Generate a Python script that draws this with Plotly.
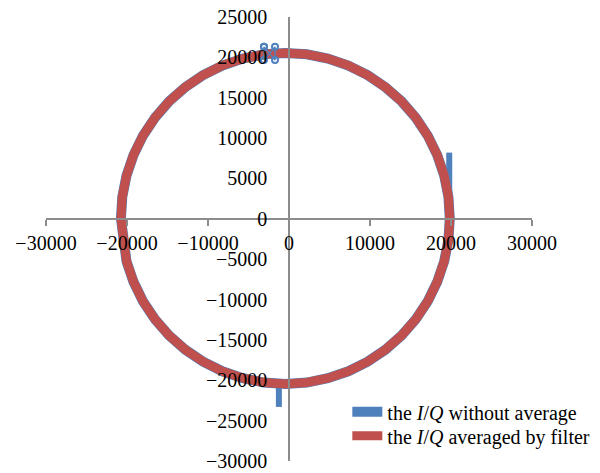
import plotly.graph_objects as go

# ---- data ----
red_I = [19850, 19680, 19160, 18300, 17130, 15650, 13900, 11900, 9700, 7320, 4800, 2200,
         -450, -3100, -5700, -8220, -10600, -12800, -14800, -16550, -18030, -19200, -20060, -20580, -20750,
         -20400, -20060, -19200, -18030, -16550, -14800, -12800, -10600, -8220, -5700, -3100,
         -450, 2200, 4800, 7320, 9700, 11900, 13900, 15650, 17130, 18300, 19160, 19680, 19850]
red_Q = [50, 2730, 5360, 7900, 10300, 12530, 14550, 16310, 17800, 18990, 19850, 20380,
         20550, 20380, 19850, 18990, 17800, 16310, 14550, 12530, 10300, 7900, 5360, 2730, 50,
         -2630, -5260, -7800, -10200, -12430, -14450, -16210, -17700, -18890, -19750, -20280,
         -20450, -20280, -19750, -18890, -17700, -16210, -14450, -12430, -10200, -7800, -5260, -2630, 50]

blue_I = red_I
blue_Q = red_Q

# spikes of the unaveraged I/Q signal
spike_I = [19780, 19780, None, -1250, -1250]
spike_Q = [1000, 8200, None, -20300, -23300]

# small loop near the top
loop_I = [-3090, -1730, -1730, -3090, -3090]
loop_Q = [21300, 19680, 21300, 19680, 21300]

x_ticks = [-30000, -20000, -10000, 0, 10000, 20000, 30000]
y_ticks = [-30000, -25000, -20000, -15000, -10000, -5000, 0, 5000, 10000, 15000, 20000, 25000]

BLUE = "#4F81BD"
RED = "#C0504D"

fig = go.Figure()
fig.add_trace(go.Scatter(x=blue_I, y=blue_Q, mode="lines",
                         line=dict(color=BLUE, width=10),
                         name="the <i>I</i>/<i>Q</i> without average",
                         legend="legend"))
fig.add_trace(go.Scatter(x=spike_I, y=spike_Q, mode="lines",
                         line=dict(color=BLUE, width=6),
                         showlegend=False, connectgaps=False))
fig.add_trace(go.Scatter(x=red_I, y=red_Q, mode="lines",
                         line=dict(color=RED, width=9),
                         name="the <i>I</i>/<i>Q</i> averaged by filter",
                         legend="legend2"))
fig.add_trace(go.Scatter(x=loop_I, y=loop_Q, mode="lines+markers",
                         line=dict(color=BLUE, width=1.5),
                         marker=dict(symbol="circle-open", size=6, color=BLUE,
                                     line=dict(width=2, color=BLUE)),
                         showlegend=False))

font_family = "Liberation Serif, Times New Roman, serif"
leg_font = dict(family=font_family, size=20, color="black")

fig.update_layout(
    width=600, height=473,
    margin=dict(l=46, r=68, t=17, b=12, autoexpand=False),
    paper_bgcolor="white", plot_bgcolor="white",
    font=dict(family=font_family, size=20, color="black"),
    showlegend=True,
    legend=dict(x=0.620, y=0.111, xanchor="left", yanchor="middle",
                font=leg_font, bgcolor="rgba(0,0,0,0)"),
    legend2=dict(x=0.620, y=0.057, xanchor="left", yanchor="middle",
                 font=leg_font, bgcolor="rgba(0,0,0,0)"),
    xaxis=dict(range=[-30000, 30000], tickvals=x_ticks,
               ticktext=[f"{v}".replace("-", "\u2212") for v in x_ticks],
               showgrid=False, zeroline=False, showline=True,
               linecolor="#8C8C8C", linewidth=1.5,
               ticks="outside", ticklen=6, tickcolor="#8C8C8C", tickwidth=1.5,
               anchor="free", position=30000 / 55000,
               ticklabelstandoff=0, automargin=False),
    yaxis=dict(range=[-30000, 25000], tickvals=y_ticks,
               ticktext=[f"{v}".replace("-", "\u2212") for v in y_ticks],
               showgrid=False, zeroline=False, showline=True,
               linecolor="#8C8C8C", linewidth=1.5,
               ticks="", anchor="free", position=0.5,
               ticklabelstandoff=17, automargin=False),
)

fig.write_html("out.html", config={"displayModeBar": False},
               post_script="document.body.style.margin='0px';")
